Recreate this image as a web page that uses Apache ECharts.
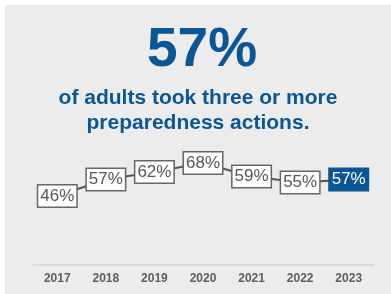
<!DOCTYPE html>
<html lang="en">
<head>
  <meta charset="utf-8" />
  <title>Preparedness actions</title>
  <script src="https://cdn.jsdelivr.net/npm/echarts@6/dist/echarts.min.js"></script>
  <style>
    body {
      margin: 0;
      background-color: #ffffff;
    }
    #main {
      position: absolute;
      left: 5px;
      top: 5px;
      width: 386px;
      height: 289px;
      background-color: #ececec;
    }
  </style>
</head>
<body>
<div id="main"></div>
<script type="text/javascript">
  let years = ['2017', '2018', '2019', '2020', '2021', '2022', '2023']
  let shares = [46, 57, 62, 68, 59, 55, 57]
  let headline = '57%'
  let sublines = ['of adults took three or more', 'preparedness actions.']

  let blue = '#0b5694'
  let boxGray = '#666666'
  let textGray = '#555555'

  let chart = echarts.init(document.getElementById('main'));

  // last year gets the filled blue box
  let points = shares.map(function (v, i) {
    let item = { value: v }
    if (i === shares.length - 1) {
      item.label = {
        backgroundColor: blue,
        borderColor: blue,
        color: '#ffffff'
      }
    }
    return item
  })

  let titles = [
    {
      text: headline,
      left: 137,
      top: 13,
      textStyle: {
        fontFamily: 'Liberation Sans',
        fontSize: 55,
        fontWeight: 'bold',
        color: blue
      }
    }
  ]
  sublines.forEach(function (line, i) {
    titles.push({
      text: line,
      left: 'center',
      top: 78 + i * 25,
      textStyle: {
        fontFamily: 'Liberation Sans',
        fontSize: 21,
        fontWeight: 'bold',
        color: blue
      }
    })
  })

  let option = {
    backgroundColor: 'transparent',
    animation: false,
    title: titles,
    grid: {
      left: 28,
      right: 18,
      top: 110,
      bottom: 29
    },
    xAxis: {
      type: 'category',
      data: years,
      axisLine: {
        lineStyle: { color: '#d9d9d9', width: 2 }
      },
      axisTick: { show: false },
      axisLabel: {
        margin: 8,
        color: '#5e5e5e',
        fontFamily: 'Liberation Sans',
        fontWeight: 'bold',
        fontSize: 12
      }
    },
    yAxis: {
      type: 'value',
      min: 0,
      max: 100,
      show: false,
      splitLine: { show: false }
    },
    series: [
      {
        type: 'line',
        data: points,
        symbol: 'circle',
        symbolSize: 0,
        showSymbol: true,
        lineStyle: { color: textGray, width: 2 },
        label: {
          show: true,
          position: 'inside',
          formatter: '{c}%',
          fontFamily: 'Liberation Sans',
          fontSize: 17,
          lineHeight: 17,
          color: textGray,
          backgroundColor: '#ffffff',
          borderColor: boxGray,
          borderWidth: 1.5,
          padding: [2, 2, 2, 2]
        }
      }
    ]
  }

  chart.setOption(option);
</script>
</body>
</html>
